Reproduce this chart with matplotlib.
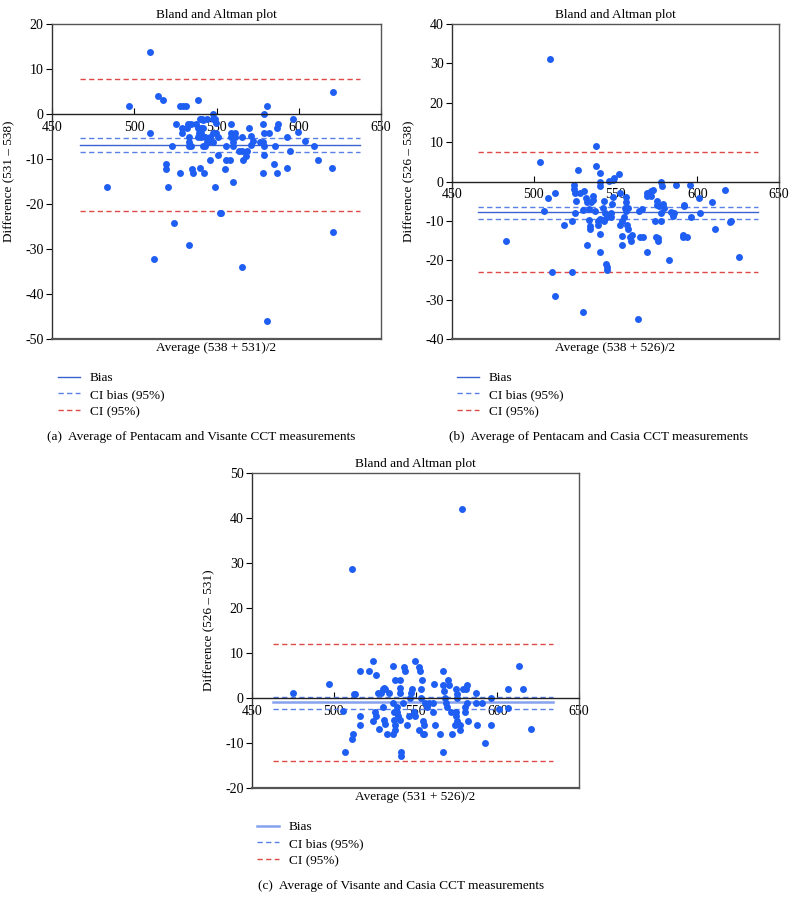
"""Bland-Altman plots for three CCT measurement pairs (Pentacam, Visante, Casia)."""
import numpy as np
import matplotlib
matplotlib.use("Agg")
import matplotlib.pyplot as plt  # noqa: E402

plt.rcParams["font.family"] = ["Liberation Serif", "DejaVu Serif"]
plt.rcParams["axes.unicode_minus"] = False

# ---- data ------------------------------------------------------------------------
avg_a = [509.5, 497, 514.4, 517.6, 509.5, 483.6, 528, 529.7, 531.4, 538.7, 580.6, 621, 578.7,
         596.6, 599.6, 603.6, 609, 612, 620.4, 621, 525.1, 529, 529, 522.7, 519, 519.5, 520.6,
         528, 524, 532.8, 533, 533, 533.5, 534.2, 535, 535.5, 540, 542.5, 546, 549, 553, 551,
         555, 555.5, 560, 556, 558, 558.7, 558.7, 558.7, 560, 560, 561, 561, 565.8, 563.5,
         565.8, 566, 568.8, 568, 570, 571, 572, 571, 578.3, 579, 578, 579, 579, 578.3, 581.8,
         585, 586.6, 587.6, 585.4, 586.8, 592.7, 593, 594.5, 576.5, 540, 541, 542, 542, 540.5,
         543, 546, 543, 544.5, 541.5, 548, 548, 549, 549.5, 548, 549.5, 551, 546, 548, 537.6,
         539, 540.4, 539.6, 540.8, 538.8, 544, 534.4, 532, 512.1, 552.4, 533, 565.2, 580.6]
diff_a = [13.8, 1.8, 3.9, 3.0, -4.2, -16.3, 1.8, 1.8, 1.8, 3.0, 1.8, 4.9, 0, -1.2, -4.1, -6.1,
          -7.1, -10.3, -12.0, -26.2, -2.2, -3.1, -4.2, -7.2, -11.1, -12.2, -16.3, -13.2, -24.2,
          -2.2, -5.1, -6.2, -7.1, -7.1, -12.2, -13.2, -12, -13.2, -10.3, -16.3, -22.1, -9.1,
          -12.2, -7.1, -15.1, -10.3, -10.3, -2.2, -4.2, -5.2, -6.2, -7.1, -4.2, -5.1, -5.1,
          -8.3, -8.3, -10.3, -8.3, -9.3, -3.1, -5.0, -6.0, -7.0, -2.2, -4.2, -6.2, -7.1, -9.1,
          -13.2, -4.2, -11.1, -3.1, -2.2, -7.1, -13.2, -12, -5.1, -8.3, -6.2, -1.2, -1.2, -1.4,
          -3.1, -4.2, -5.1, -5.1, -7.1, -6.2, -7.1, 0, -1.1, -1.1, -2.1, -4.2, -4.2, -5.1, -6,
          -6.2, -2.2, -3.1, -3.1, -4.2, -5.1, -5.1, -1.1, -2.2, -3.1, -32.2, -22, -29.2, -34.1,
          -46.1]
bias_a, cib_a, loa_a = -6.9, (-5.35, -8.35), (7.8, -21.6)

avg_b = [509.9, 504, 537.8, 527, 538.2, 540.6, 552, 546, 548.5, 549, 540.6, 540.6, 578, 578.6,
         587, 595.6, 617.2, 600.9, 609, 601.7, 592, 513.1, 508.9, 506.2, 524.5, 524.9, 525.5,
         525.8, 525, 528.4, 531, 532, 532.5, 530.4, 533.5, 535, 536, 536.5, 537.3, 543, 542.2,
         543.7, 544.7, 542.6, 548.5, 548, 547, 553, 556.6, 556.6, 555.8, 557.8, 556.2, 566.5,
         564.3, 569, 569.3, 572, 573, 571.5, 575.2, 575.2, 576.4, 577.6, 578.8, 579.8, 583.8,
         585, 585.8, 620, 611, 483, 518.6, 523.3, 511.3, 512.7, 523.5, 530, 532.5, 533.5,
         534.5, 534.5, 539, 539.2, 540.6, 540.6, 540.6, 544.3, 545, 545, 543, 547.4, 553, 554,
         555, 554, 554, 557, 557.6, 559, 559.5, 560, 563.8, 565, 567, 569, 575, 576, 576, 574,
         578, 583, 591.5, 591, 594, 596.4, 620.7, 625.6, 592]
diff_b = [31.0, 5.0, 9.0, 3.0, 3.9, 2.1, 2.0, 0.2, 0.3, 1.0, 0, -1.1, 0, -1.1, -1.0, -1.0, -2.2,
          -4.1, -5.1, -8.1, -6.1, -3.0, -4.1, -7.4, -0.8, -1.9, -2.8, -4.9, -7.9, -3, -2.3, -4.3,
          -5.3, -7.2, -7.1, -5.1, -3.8, -4.7, -7.5, -4.9, -6.8, -8.1, -8.9, -9.7, -4.0, -5.8,
          -8.1, -2.8, -4.0, -5.3, -6.8, -6.8, -7.6, -7.0, -7.6, -2.8, -3.8, -2.3, -2.1, -3.8,
          -4.9, -5.9, -6.2, -8.0, -5.6, -6.8, -7.8, -8.7, -8.0, -10.2, -12.1, -15, -11, -10.1,
          -23.1, -29.1, -23.1, -33.1, -16.1, -9.9, -11.2, -12.1, -10, -11, -9.4, -13.4, -18,
          -21, -21.8, -22.4, -10, -9, -11, -10, -9, -13.8, -16, -11, -12, -14, -15, -13.5,
          -34.9, -14, -14, -18, -14, -15, -14.4, -10, -10, -20, -13.5, -14, -14, -9, -10.1,
          -19.2, -6]
bias_b, cib_b, loa_b = -7.8, (-6.4, -9.5), (7.5, -22.9)

avg_c = [511.1, 578.7, 475, 496.8, 505.6, 506.6, 511.3, 511.7, 512.5, 513.3, 515.8, 515.8, 515.8,
         521.7, 524.3, 526, 524, 525.5, 526, 527.4, 527, 529, 530, 530.8, 531.6, 530, 530.8,
         531.6, 532.5, 536, 534, 536, 536, 537, 537.6, 540.6, 537, 537.6, 537.6, 538.6, 538.8,
         539, 540.6, 540.6, 540.6, 541, 541.2, 543, 543.7, 542.2, 544.7, 546, 546.7, 547.5,
         548, 549.8, 548.8, 549.8, 552, 553, 553.9, 553.5, 553.5, 552, 554.5, 555, 556, 557,
         558, 554.5, 555.5, 561.4, 561, 561, 562, 564.7, 566.7, 567, 567.6, 568, 568.7, 566.7,
         570, 570.6, 569, 572, 572.6, 574.6, 575.2, 575.6, 574.5, 575, 575.2, 574, 577, 577.2,
         580, 580.3, 581.3, 580.6, 579, 581.3, 582.4, 586.7, 586.7, 587.5, 590.5, 592.6, 596,
         596, 601, 606.8, 606.8, 613.5, 615.6, 620.7]
diff_c = [28.7, 42.0, 1.1, 3.1, -2.9, -12.1, -9, -8.1, 1, 1, 6.1, -4, -6, 6.1, 8.2, 5.2, -5, -3,
          -4, -6.9, 1.1, 1.1, 2.1, 2.2, 2.1, -1.9, -4.8, -5.8, -8, -8, 1.1, 7.1, -1, -3, 4.1,
          4.1, -4.8, -6, -7.1, -2, -3, -4, 2.2, 1.1, -4.8, -12, -12.9, 7, 6, -1, -6, -4, 0, 1.1,
          2.1, 8.2, -3, -4, 7, 6, 4.1, 2.1, 0, -7, -8, -8, -1, -2, -1, -5, -6, 3.1, -1, -3, -6,
          -8, 6.1, 3, 1.5, 0, -1, -12.1, 4, 3, -2, -3, -8, 2, 1, 0, -3, -4, -5, -6, -6, -7, -2,
          -3, 3, 2, 2, -1, -5, 1.1, -1, -6, -1, -10, 0, -6, -2.5, 2.1, -2.2, 7.1, 2.1, -6.9]
bias_c, cib_c, loa_c = -0.9, (0.3, -2.4), (11.9, -14.1)

panels = [
    dict(avg=avg_a, diff=diff_a, bias=bias_a, cib=cib_a, loa=loa_a, yticks=range(-50, 21, 10),
         ylabel="Difference (531 – 538)", xlabel="Average (538 + 531)/2",
         caption="(a)  Average of Pentacam and Visante CCT measurements", span=(0.085, 0.935)),
    dict(avg=avg_b, diff=diff_b, bias=bias_b, cib=cib_b, loa=loa_b, yticks=range(-40, 41, 10),
         ylabel="Difference (526 – 538)", xlabel="Average (538 + 526)/2",
         caption="(b)  Average of Pentacam and Casia CCT measurements", span=(0.078, 0.935)),
    dict(avg=avg_c, diff=diff_c, bias=bias_c, cib=cib_c, loa=loa_c, yticks=range(-20, 51, 10),
         ylabel="Difference (526 – 531)", xlabel="Average (531 + 526)/2",
         caption="(c)  Average of Visante and Casia CCT measurements", span=(0.064, 0.92)),
]
xticks = [450, 500, 550, 600, 650]

# ---- layout (pixels of a 796 x 913 canvas) ---------------------------------------
W, H = 796, 913
boxes = [(52, 24, 329, 315), (452, 24, 327, 315), (252, 473, 327, 315)]
legend_at = [(58, 372), (457, 372), (257, 821)]
caption_at = [(47, 437), (449, 437), (258, 886)]
bias_style = [("#3b62d0", 1.0), ("#3b62d0", 1.0), ("#86a2ee", 1.8)]

PT_COLOR = "#1f5ef2"
CIB_COLOR = "#5a80e6"
CI_COLOR = "#e04848"
DASH = (0, (3.8, 2.4))
FS = 9.5

fig = plt.figure(figsize=(W / 100, H / 100), dpi=100)
for p, (l, t, w, h), (lx, ly), (cx, cy), (bc, blw) in zip(panels, boxes, legend_at,
                                                          caption_at, bias_style):
    ax = fig.add_axes([l / W, 1 - (t + h) / H, w / W, h / H])
    yt = list(p["yticks"])
    ax.set_xlim(450, 650)
    ax.set_ylim(yt[0], yt[-1])

    ax.plot(p["avg"], p["diff"], "o", ms=5.0, color=PT_COLOR, mec="none", zorder=2)
    x0, x1 = p["span"]
    kw = dict(xmin=x0, xmax=x1, zorder=1.9)
    h_bias = ax.axhline(p["bias"], color=bc, lw=blw, ls="-", **kw)
    h_cib = None
    for v in p["cib"]:
        h_cib = ax.axhline(v, color=CIB_COLOR, lw=1.0, ls=DASH, **kw)
    h_ci = None
    for v in p["loa"]:
        h_ci = ax.axhline(v, color=CI_COLOR, lw=1.0, ls=DASH, **kw)

    # frame: x axis through zero, grey box around
    ax.spines["bottom"].set_position(("data", 0))
    ax.spines["bottom"].set_color("#222222")
    for s in ("top", "right"):
        ax.spines[s].set_color("#555555")
    ax.spines["left"].set_color("#333333")
    ax.axhline(yt[0], color="#555555", lw=1.6, clip_on=False, zorder=4)
    for s in ax.spines.values():
        s.set_linewidth(1.0)

    ax.set_xticks(xticks)
    ax.set_yticks(yt)
    ax.tick_params(axis="x", direction="in", length=4, pad=5, labelsize=FS + 0.5)
    ax.tick_params(axis="y", direction="out", length=4, pad=2, labelsize=FS + 0.5)

    ax.set_title("Bland and Altman plot", fontsize=FS, pad=4)
    ax.set_ylabel(p["ylabel"], fontsize=FS)
    ax.yaxis.set_label_coords(-0.112, 0.5)
    ax.text(0.5, -0.01, p["xlabel"], transform=ax.transAxes, ha="center", va="top",
            fontsize=FS)

    ax.legend([h_bias, h_cib, h_ci], ["Bias", "CI bias (95%)", "CI (95%)"],
              loc="upper left", bbox_to_anchor=(lx / W, 1 - ly / H),
              bbox_transform=fig.transFigure, frameon=False, fontsize=FS,
              borderpad=0, borderaxespad=0, handlelength=1.7, handletextpad=0.7,
              labelspacing=0.35)
    fig.text(cx / W, 1 - cy / H, p["caption"], ha="left", va="center", fontsize=FS)

fig.savefig("out.png", dpi=100)
